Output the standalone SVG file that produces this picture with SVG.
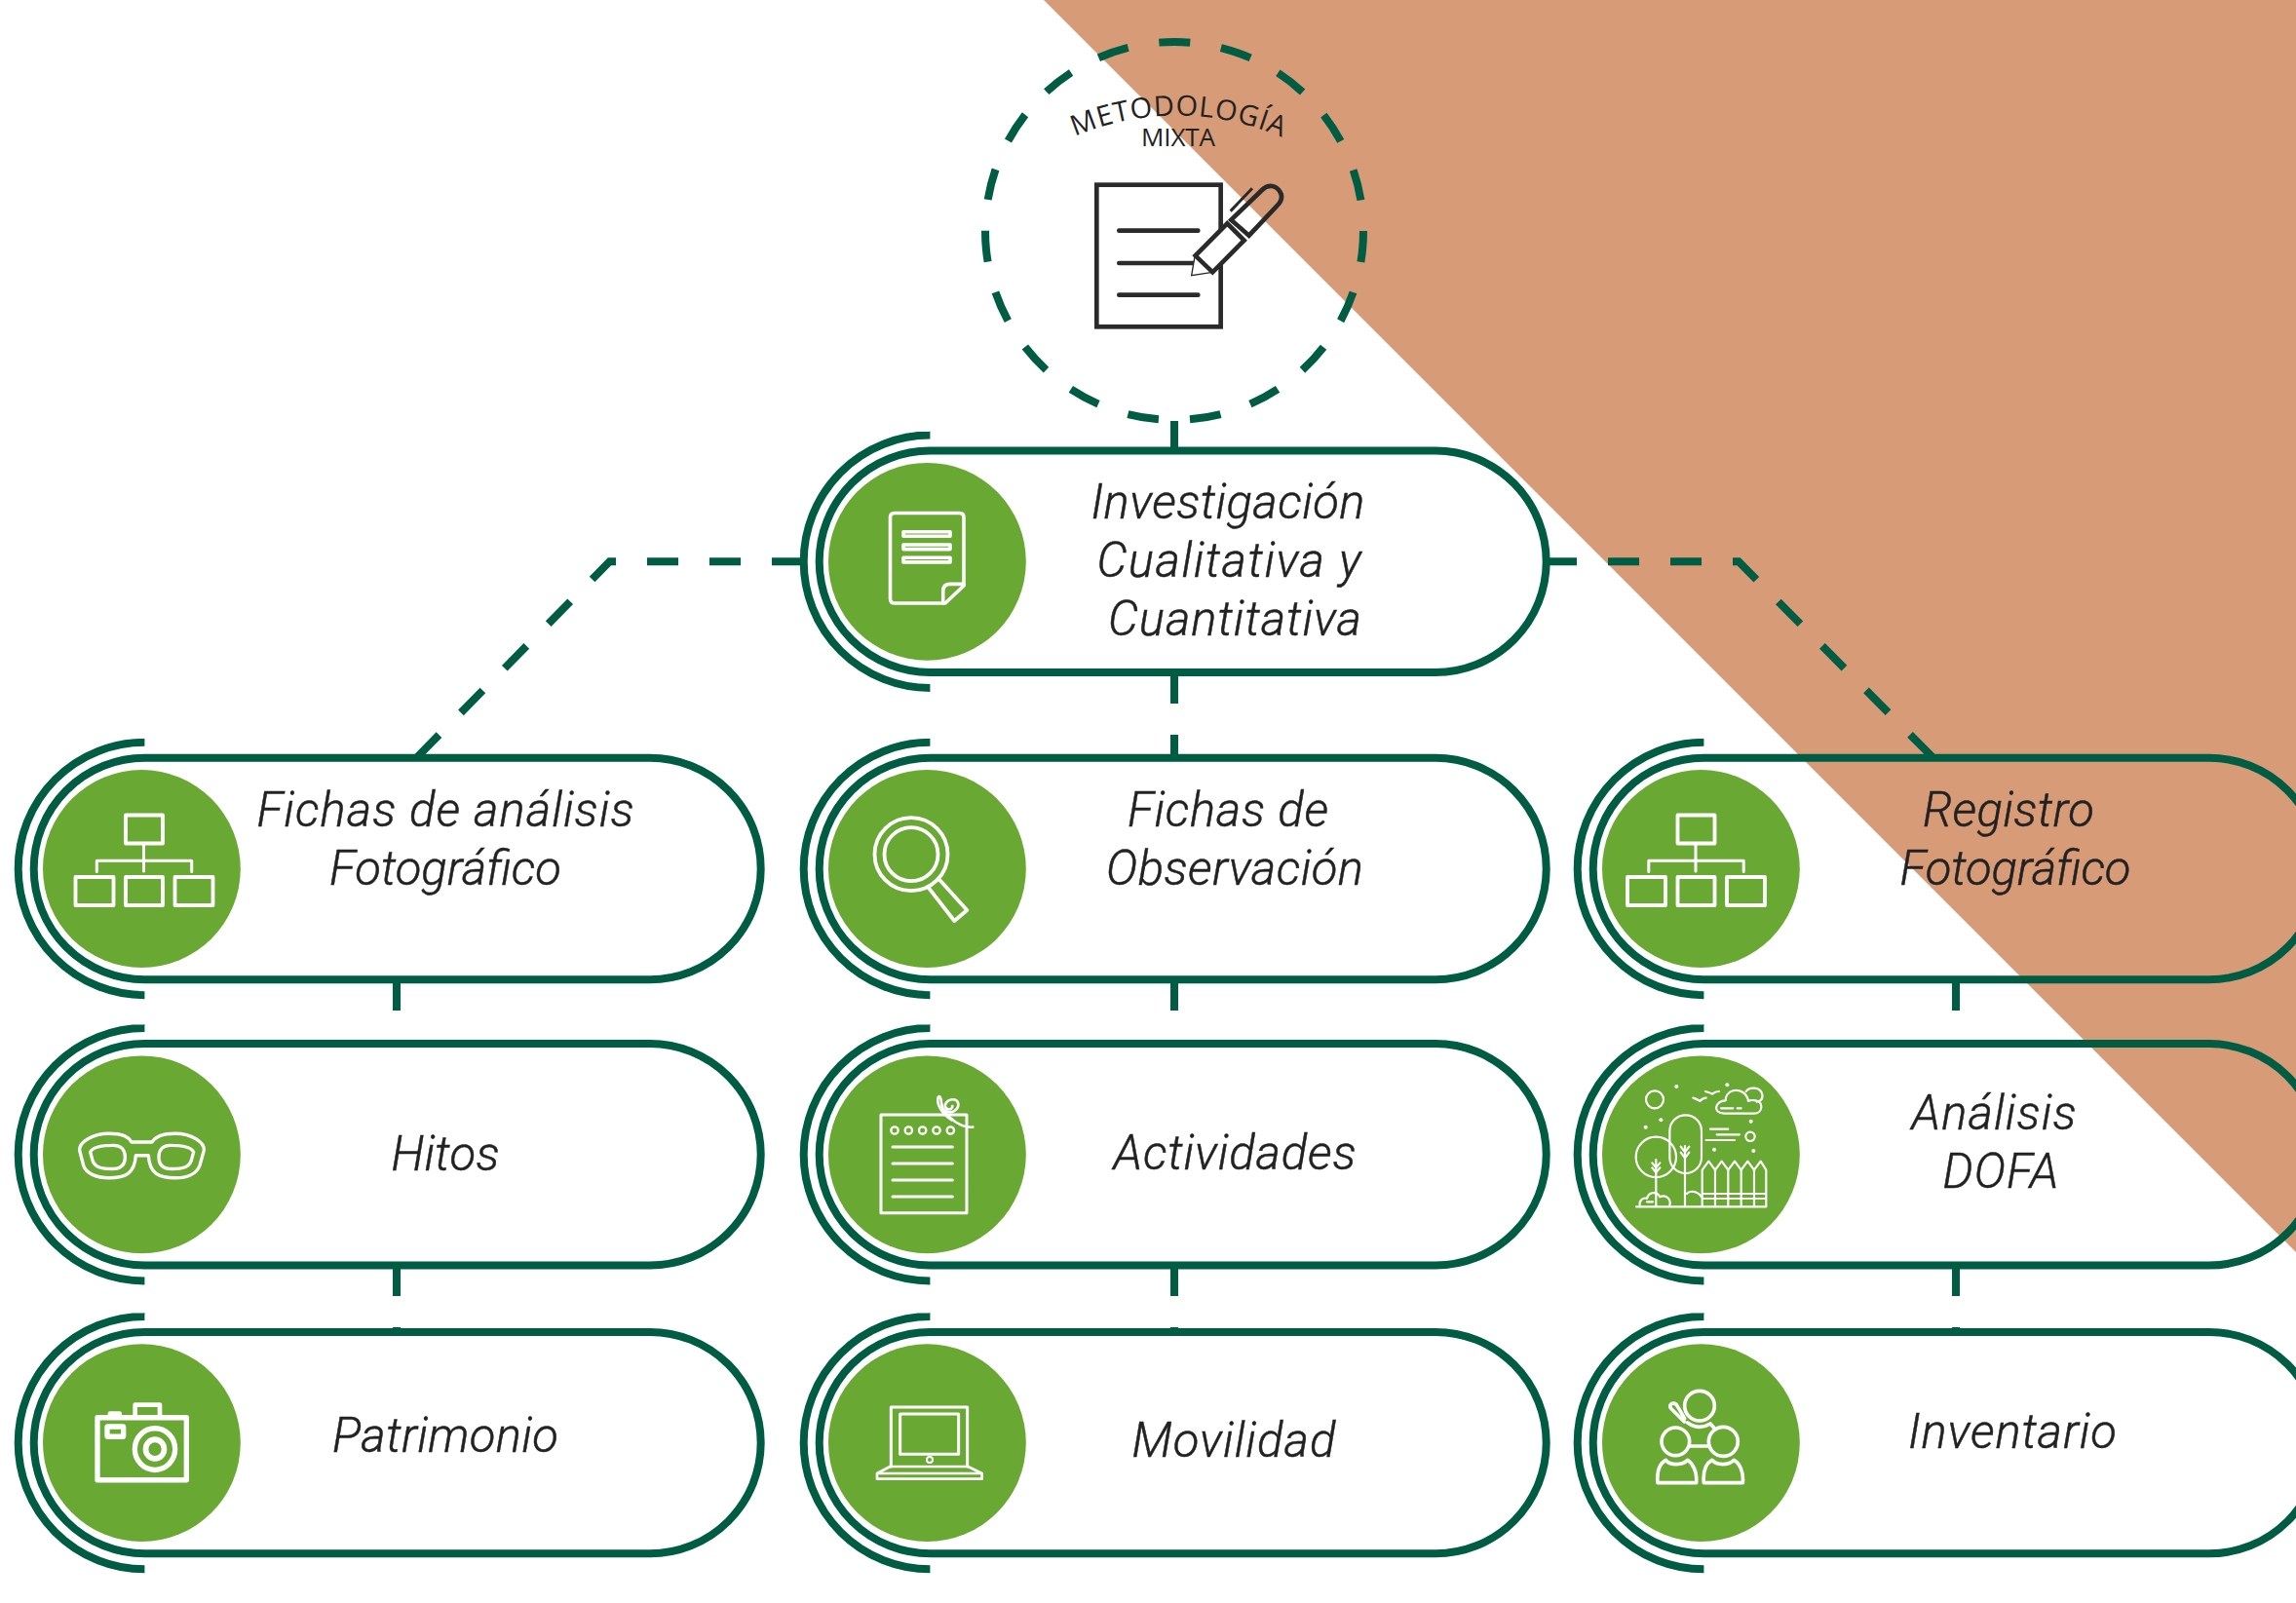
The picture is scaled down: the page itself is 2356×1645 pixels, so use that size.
<svg xmlns="http://www.w3.org/2000/svg" width="2356" height="1645" viewBox="0 0 2356 1645">
<style>
.line{fill:none;stroke:#005C43;stroke-width:8}
.dash{stroke-dasharray:32 32}
.disc{fill:#69A832}
.ic{fill:none;stroke:#fff;stroke-linejoin:round;stroke-linecap:round}
.dot{fill:#fff}
.t{font-family:Roboto,"Open Sans",sans-serif;font-style:italic;font-weight:300;font-size:49px;fill:#222;stroke:#222;stroke-width:.5;text-anchor:middle}
.m{font-family:"Open Sans",sans-serif;font-size:29px;fill:#222}
.ink{fill:none;stroke:#2A2A2A;stroke-width:14}
</style>
<defs>
<g id="pill">
<path class="line" d="M113 -129.7H113.7A129.7 129.7 0 0 0 113.7 129.7H113"/>
<path class="line" d="M113.7 -113.7H632.3A113.7 113.7 0 0 1 632.3 113.7H113.7A113.7 113.7 0 0 1 113.7 -113.7Z"/>
<circle class="disc" cx="110.7" cy="0" r="101.4"/>
</g>
<g id="orgIcon" class="ic" stroke-width="3.8">
<rect x="129" y="836.5" width="38" height="29"/>
<rect x="77.5" y="900" width="39" height="29"/>
<rect x="129" y="900" width="38" height="29"/>
<rect x="179.5" y="900" width="39" height="29"/>
<path stroke-width="3" d="M147.5 866V894M99.3 894.5V883.3H196.7V894.5"/>
</g>
</defs>
<polygon id="backdrop" points="1071,0 2356,0 2356,1285" fill="#D79B77"/>
<g id="connectors">
<circle class="line dash" cx="1205" cy="237" r="194" style="stroke-dasharray:32 32.15"/>
<path class="line" d="M1205 432V462"/>
<path class="line dash" d="M1205 690V778"/>
<path class="line dash" d="M824 576.3H625.5L427 778"/>
<path class="line dash" d="M1586 576.3H1784L1984 778"/>
<path class="line dash" d="M407 1005V1071"/>
<path class="line dash" d="M1205 1005V1071"/>
<path class="line dash" d="M2007 1005V1071"/>
<path class="line dash" d="M407 1298V1367"/>
<path class="line dash" d="M1205 1298V1367"/>
<path class="line dash" d="M2007 1298V1367"/>
</g>
<g id="metodologia">
<path id="arcText" d="M1103 140A268 268 0 0 1 1313 140" fill="none"/>
<text class="m"><textPath href="#arcText" textLength="218">METODOLOGÍA</textPath></text>
<text class="m" style="font-size:26px" x="1209" y="150" text-anchor="middle" textLength="76">MIXTA</text>
<g transform="translate(980,20) scale(0.3333)">
<rect class="ink" x="436" y="509" width="382" height="437" style="fill:#fff"/>
<path class="ink" stroke-linecap="round" d="M505 650H748M505 750H735M505 848H748"/>
<path d="M738 730L728 788L793 778Z" fill="#fff" stroke="#2A2A2A" stroke-width="4"/>
<path class="ink" style="fill:#fff" d="M740 727L793 778L890 680L838 628Z"/>
<path class="ink" d="M850 617L905 665L990 575C1005 560 1010 545 1000 530C990 512 965 505 945 525Z"/>
<path class="ink" style="stroke-width:9" d="M848 590L915 520"/>
</g>
</g>
<g id="node-investigacion">
<use href="#pill" transform="translate(840.7,576.3)"/>
<g class="ic" stroke-width="3.6">
<path d="M989 601V531Q989 526.5 984.5 526.5H918Q913.5 526.5 913.5 531V614.5Q913.5 619 918 619H970Z"/>
<path d="M967.7 619V606.7Q967.7 599.4 975 599.4H989"/>
<rect x="927" y="545.7" width="48" height="4.6"/>
<rect x="927" y="559" width="48" height="4.6"/>
<rect x="927" y="572.3" width="48" height="4.6"/>
</g>
<text class="t" x="1260" y="532" textLength="281">Investigación</text>
<text class="t" x="1261" y="592" textLength="271">Cualitativa y</text>
<text class="t" x="1267" y="652" textLength="260">Cuantitativa</text>
</g>
<g id="node-fichas-analisis">
<use href="#pill" transform="translate(34.7,891.5)"/>
<use href="#orgIcon"/>
<text class="t" x="457" y="848" textLength="387">Fichas de análisis</text>
<text class="t" x="457" y="908" textLength="238">Fotográfico</text>
</g>
<g id="node-fichas-observacion">
<use href="#pill" transform="translate(840.7,891.5)"/>
<g class="ic" stroke-width="3.8">
<circle cx="935" cy="876.7" r="37.5"/>
<circle cx="935" cy="876.7" r="27.5"/>
<path d="M953.3 911.7L979.3 945L992.3 934L964 902.7"/>
</g>
<text class="t" x="1260" y="848" textLength="206">Fichas de</text>
<text class="t" x="1267" y="908" textLength="264">Observación</text>
</g>
<g id="node-registro">
<use href="#pill" transform="translate(1634.7,891.5)"/>
<use href="#orgIcon" transform="translate(1592.5,0)"/>
<text class="t" x="2061" y="848" textLength="176">Registro</text>
<text class="t" x="2068" y="908" textLength="237">Fotográfico</text>
</g>
<g id="node-hitos">
<use href="#pill" transform="translate(34.7,1184.8)"/>
<g class="ic" stroke-width="10" transform="translate(20,1060) scale(0.3333,0.3444)">
<path d="M345 325H408C420 310 435 300 480 300C530 300 570 325 568 350L555 395C545 420 515 432 480 432C430 432 400 420 397 365H358C355 420 325 432 275 432C240 432 205 420 197 395L185 350C183 325 225 300 275 300C320 300 335 310 345 325Z"/>
<path d="M218 355C225 340 250 335 290 335C315 335 325 350 325 370C325 395 310 405 285 405C250 405 232 400 225 380Z"/>
<path d="M536 355C529 340 504 335 464 335C439 335 429 350 429 370C429 395 444 405 469 405C504 405 522 400 529 380Z"/>
</g>
<text class="t" x="457" y="1201" textLength="111">Hitos</text>
</g>
<g id="node-actividades">
<use href="#pill" transform="translate(840.7,1184.8)"/>
<g class="ic" stroke-width="9" transform="translate(820,1070) scale(0.3333)">
<rect x="252" y="222" width="264" height="302"/>
<path d="M288 321H472M288 372H472M288 423H472M288 474H472"/>
<g stroke-width="7">
<circle cx="294" cy="270" r="11"/><circle cx="337" cy="270" r="11"/><circle cx="380" cy="270" r="11"/><circle cx="423" cy="270" r="11"/><circle cx="466" cy="270" r="11"/>
</g>
<path stroke-width="8" d="M535 260C515 262 498 255 480 243C455 226 440 208 438 185C437 170 432 160 428 168C422 190 440 220 470 238M452 210C470 222 492 205 490 188C486 170 460 170 450 190C445 206 472 212 472 195"/>
</g>
<text class="t" x="1267" y="1200" textLength="249">Actividades</text>
</g>
<g id="node-dofa">
<use href="#pill" transform="translate(1634.7,1184.8)"/>
<g class="ic" stroke-width="6.5" transform="translate(1610,1060) scale(0.3333)">
<circle cx="264" cy="205" r="27"/>
<path d="M382 200Q395 204 403 210Q412 200 422 200M420 180Q435 184 441 188Q450 180 462 180"/>
<path d="M478 248H570C597 248 600 212 575 208C560 205 556 208 552 210C548 185 525 172 505 178C490 182 482 195 482 208C450 208 440 248 478 248Z"/>
<path d="M545 180C555 165 590 165 595 190C597 202 590 210 578 212M468 232H505M518 232H530"/>
<path d="M435 296H490M455 313H525M422 330H510"/>
<circle cx="558" cy="319" r="14"/>
<circle cx="268" cy="382" r="62"/>
<path d="M268 390V533M256 400L268 415L280 400M256 415L268 430L280 415"/>
<rect x="310" y="253" width="98" height="179" rx="49"/>
<path d="M357 348V533M344 350L357 367L370 350M344 368L357 385L370 368"/>
<path d="M207 535H607"/>
<path d="M218 530C215 515 230 505 240 510C245 490 270 485 280 505C300 495 315 515 310 530M240 520H258M363 495C370 485 395 485 408 505"/>
<path d="M410 533V422L430 395L450 422V533M450 422L470 395L490 422V533M490 422L510 395L530 422V533M530 422L550 395L570 422V533M570 422L590 395L607 422V533M410 495H607M410 510H607"/>
</g>
<g class="dot" transform="translate(1610,1060) scale(0.3333)">
<circle cx="331" cy="165" r="6"/><circle cx="487" cy="160" r="6"/><circle cx="283" cy="268" r="6"/><circle cx="236" cy="290" r="6"/><circle cx="560" cy="272" r="6"/><circle cx="447" cy="359" r="6"/><circle cx="568" cy="363" r="6"/>
</g>
<text class="t" x="2046" y="1159" textLength="169">Análisis</text>
<text class="t" x="2053" y="1219" textLength="119">DOFA</text>
</g>
<g id="node-patrimonio">
<use href="#pill" transform="translate(34.7,1480.6)"/>
<g class="ic" stroke-width="16" transform="translate(20,1060) scale(0.3333,0.3444)">
<rect x="240" y="1146" width="274" height="186"/>
<path stroke-width="14" d="M356 1140V1108H432V1140"/>
<path style="stroke:none;fill:#fff" d="M272 1140V1134Q272 1127 279 1127H308Q315 1127 315 1134V1140Z"/>
<rect x="270" y="1173" width="50" height="30" rx="2" stroke-width="16"/>
<circle cx="417" cy="1240" r="62" stroke-width="16"/>
<circle cx="417" cy="1240" r="28.5" stroke-width="17"/>
</g>
<text class="t" x="457" y="1490" textLength="232">Patrimonio</text>
</g>
<g id="node-movilidad">
<use href="#pill" transform="translate(840.7,1480.6)"/>
<g class="ic" stroke-width="9" transform="translate(830,1340) scale(0.3333)">
<path d="M253 495V312H488V495"/>
<rect x="281" y="333" width="180" height="124"/>
<circle cx="372" cy="474" r="9" stroke-width="6"/>
<path d="M250 495H490L533 516V533H210V516ZM213 516H533" stroke-width="8"/>
</g>
<text class="t" x="1266" y="1495" textLength="209">Movilidad</text>
</g>
<g id="node-inventario">
<use href="#pill" transform="translate(1634.7,1480.6)"/>
<g class="ic" stroke-width="11" transform="translate(1620,1360) scale(0.3333)">
<circle cx="372" cy="248" r="46"/>
<path d="M325 297L283 255Q278 245 288 241Q298 238 303 248L326 287M335 300Q370 325 405 303L416 315"/>
<circle cx="298" cy="358" r="43"/>
<circle cx="445" cy="358" r="45"/>
<path d="M340 372H403"/>
<path d="M243 485C240 450 250 425 268 415C280 432 320 432 335 415C350 425 365 450 362 485Z"/>
<path d="M385 485C382 450 392 425 410 415C425 432 460 432 478 415C495 425 508 450 505 485Z"/>
</g>
<text class="t" x="2065" y="1486" textLength="214">Inventario</text>
</g>
</svg>
